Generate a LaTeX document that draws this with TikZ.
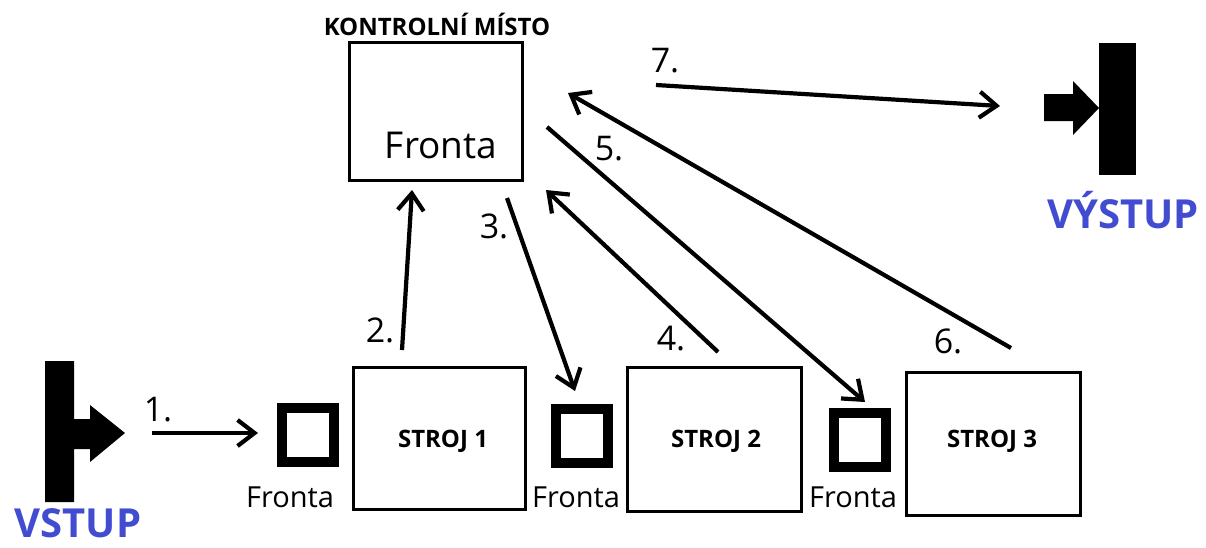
\documentclass[tikz,border=0pt]{standalone}
\usepackage{fontspec}
\setmainfont{Open Sans}
\usetikzlibrary{arrows.meta}
\definecolor{inoutblue}{RGB}{66,76,208}
\begin{document}
\begin{tikzpicture}[x=1pt,y=-1pt,
  machine/.style={draw, line width=3.6pt, inner sep=0pt},
  queuebox/.style={draw, line width=10.5pt, inner sep=0pt, minimum width=52pt, minimum height=54pt},
  flow/.style={line width=4.2pt, -{Straight Barb[length=17pt,width=26pt,line width=4.2pt]}},
  steplabel/.style={font=\fontsize{34}{34}\selectfont, anchor=base},
  qlabel/.style={font=\fontsize{29}{29}\selectfont, anchor=base},
  mlabel/.style={font=\fontsize{24}{24}\selectfont\bfseries, anchor=base},
  bigio/.style={font=\fontsize{40}{40}\selectfont\bfseries, text=inoutblue, anchor=base, inner sep=1pt}
]
\useasboundingbox (0,0) rectangle (1206,547);

% control point
\node[machine, minimum width=173pt, minimum height=138pt] (ctrl) at (436,111.5) {};
\node[anchor=base, font=\fontsize{37}{37}\selectfont] (ctrlq) at (441,158) {Fronta};
\node[anchor=base, font=\fontsize{24}{24}\selectfont\bfseries] (ctrlt) at (437,35) {KONTROLNÍ MÍSTO};

% machines
\node[machine, minimum width=172pt, minimum height=142pt] (m1) at (439.5,438.5) {};
\node[machine, minimum width=174pt, minimum height=144pt] (m2) at (714.5,439.5) {};
\node[machine, minimum width=174pt, minimum height=143pt] (m3) at (993.5,444) {};
\node[mlabel] (m1t) at (443,447) {STROJ 1};
\node[mlabel] (m2t) at (716,447) {STROJ 2};
\node[mlabel] (m3t) at (992,447) {STROJ 3};

% queues in front of the machines
\node[queuebox] (q1) at (308,435) {};
\node[queuebox] (q2) at (582,436) {};
\node[queuebox] (q3) at (860,440) {};
\node[qlabel] (q1t) at (290,507) {Fronta};
\node[qlabel] (q2t) at (576,507) {Fronta};
\node[qlabel] (q3t) at (853,507) {Fronta};

% input symbol
\fill (45,361) -- (74,361) -- (74,419) -- (90,419) -- (90,405) -- (125,433)
  -- (90,462) -- (90,449) -- (74,449) -- (74,502) -- (45,502) -- cycle;
\node[bigio] (in) at (78,537) {VSTUP};

% output symbol
\fill (1099,43) rectangle (1136,175);
\fill (1044,94) -- (1073,94) -- (1073,81) -- (1099,108) -- (1073,135) -- (1073,121) -- (1044,121) -- cycle;
\node[bigio] (out) at (1123,228) {VÝSTUP};

% connector end points
\coordinate (a1s) at (152,433); \coordinate (a1e) at (258,433);
\coordinate (a2s) at (402,350); \coordinate (a2e) at (412,190);
\coordinate (a3s) at (507,198); \coordinate (a3e) at (575,391);
\coordinate (a4s) at (718,352); \coordinate (a4e) at (546,190);
\coordinate (a5s) at (547,127); \coordinate (a5e) at (865,402);
\coordinate (a6s) at (1011,348); \coordinate (a6e) at (568,93);
\coordinate (a7s) at (656,85); \coordinate (a7e) at (1000,106);

\draw[flow, line width=3.3pt] (a1s) -- (a1e);
\draw[flow] (a2s) -- (a2e);
\draw[flow] (a3s) -- (a3e);
\draw[flow] (a4s) -- (a4e);
\draw[flow] (a5s) -- (a5e);
\draw[flow] (a6s) -- (a6e);
\draw[flow] (a7s) -- (a7e);

% step numbers
\node[steplabel] (n1) at (158,421) {1.};
\node[steplabel] (n2) at (380,342) {2.};
\node[steplabel] (n3) at (494,238) {3.};
\node[steplabel] (n4) at (671,350) {4.};
\node[steplabel] (n5) at (609,160) {5.};
\node[steplabel] (n6) at (948,353) {6.};
\node[steplabel] (n7) at (665,72) {7.};
\end{tikzpicture}
\end{document}
